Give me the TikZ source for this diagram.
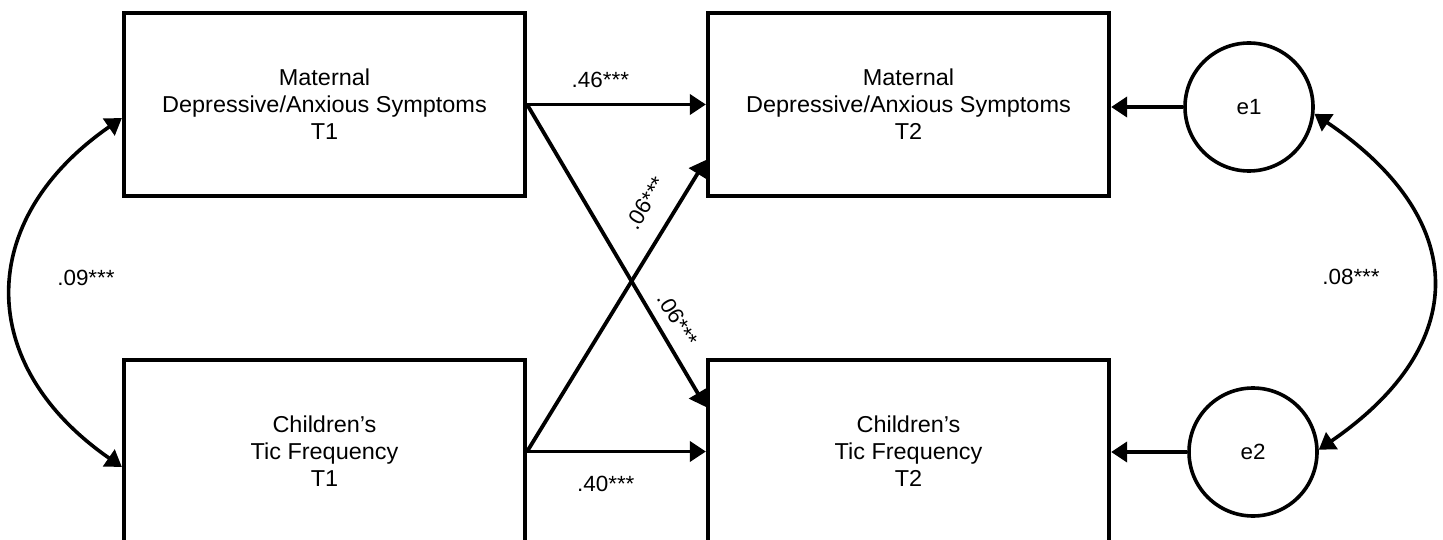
\documentclass[tikz,border=0pt]{standalone}
\usepackage{fontspec}
\setmainfont{Liberation Sans}[FakeStretch=1.02]
\usetikzlibrary{arrows.meta,calc}
\begin{document}
\begin{tikzpicture}[x=1pt,y=-1pt,
  box/.style={draw, line width=4.2pt, minimum width=401pt, minimum height=183pt,
    align=center, inner sep=0pt, font=\fontsize{23}{27}\selectfont},
  err/.style={draw, circle, line width=3.6pt, minimum size=128pt, inner sep=0pt,
    font=\fontsize{22}{24}\selectfont},
  conn/.style={line width=3.8pt, -{Triangle[length=16pt,width=20pt]}},
  cov/.style={line width=3.6pt, {Triangle[length=16pt,width=20pt]}-{Triangle[length=16pt,width=20pt]}},
  lab/.style={inner sep=0pt, font=\fontsize{22}{24}\selectfont}]
\useasboundingbox (0,0) rectangle (1443,540);
\fill[white] (0,0) rectangle (1443,540);

\node[box] (A) at (324.5,104.5) {Maternal\\Depressive/Anxious Symptoms\\T1};
\node[box] (B) at (908.5,104.5) {Maternal\\Depressive/Anxious Symptoms\\T2};
\node[box] (C) at (324.5,451.5) {Children’s\\Tic Frequency\\T1};
\node[box] (D) at (908.5,451.5) {Children’s\\Tic Frequency\\T2};
\node[err] (e1) at (1249,107) {e1};
\node[err] (e2) at (1253,452) {e2};

\draw[conn] (A.east) -- node[lab, pos=0.41, above=14.5pt] {.46***} (B.west);
\draw[conn] (C.east) -- node[lab, pos=0.44, below=22.5pt] {.40***} (D.west);
\draw[conn] (A.east) -- node[lab, sloped, pos=0.745, above=10.5pt] {.06***} ([yshift=44.5pt]D.west);
\draw[conn] (C.east) -- node[lab, sloped, pos=0.80, above=19pt] {.06***} ([yshift=-55.5pt]B.west);
\draw[conn] (e1.west) -- (e1.west -| B.east);
\draw[conn] (e2.west) -- (e2.west -| D.east);

\draw[cov] ([yshift=-13.5pt]A.west) .. controls (-25,220) and (-25,365) .. ([yshift=-15.5pt]C.west);
\draw[cov] (e1.-6) .. controls (1471,220) and (1471,345) .. (e2.2);

\node[lab] (l09) at (86,278) {.09***};
\node[lab] (l08) at (1351,277) {.08***};
\end{tikzpicture}
\end{document}
